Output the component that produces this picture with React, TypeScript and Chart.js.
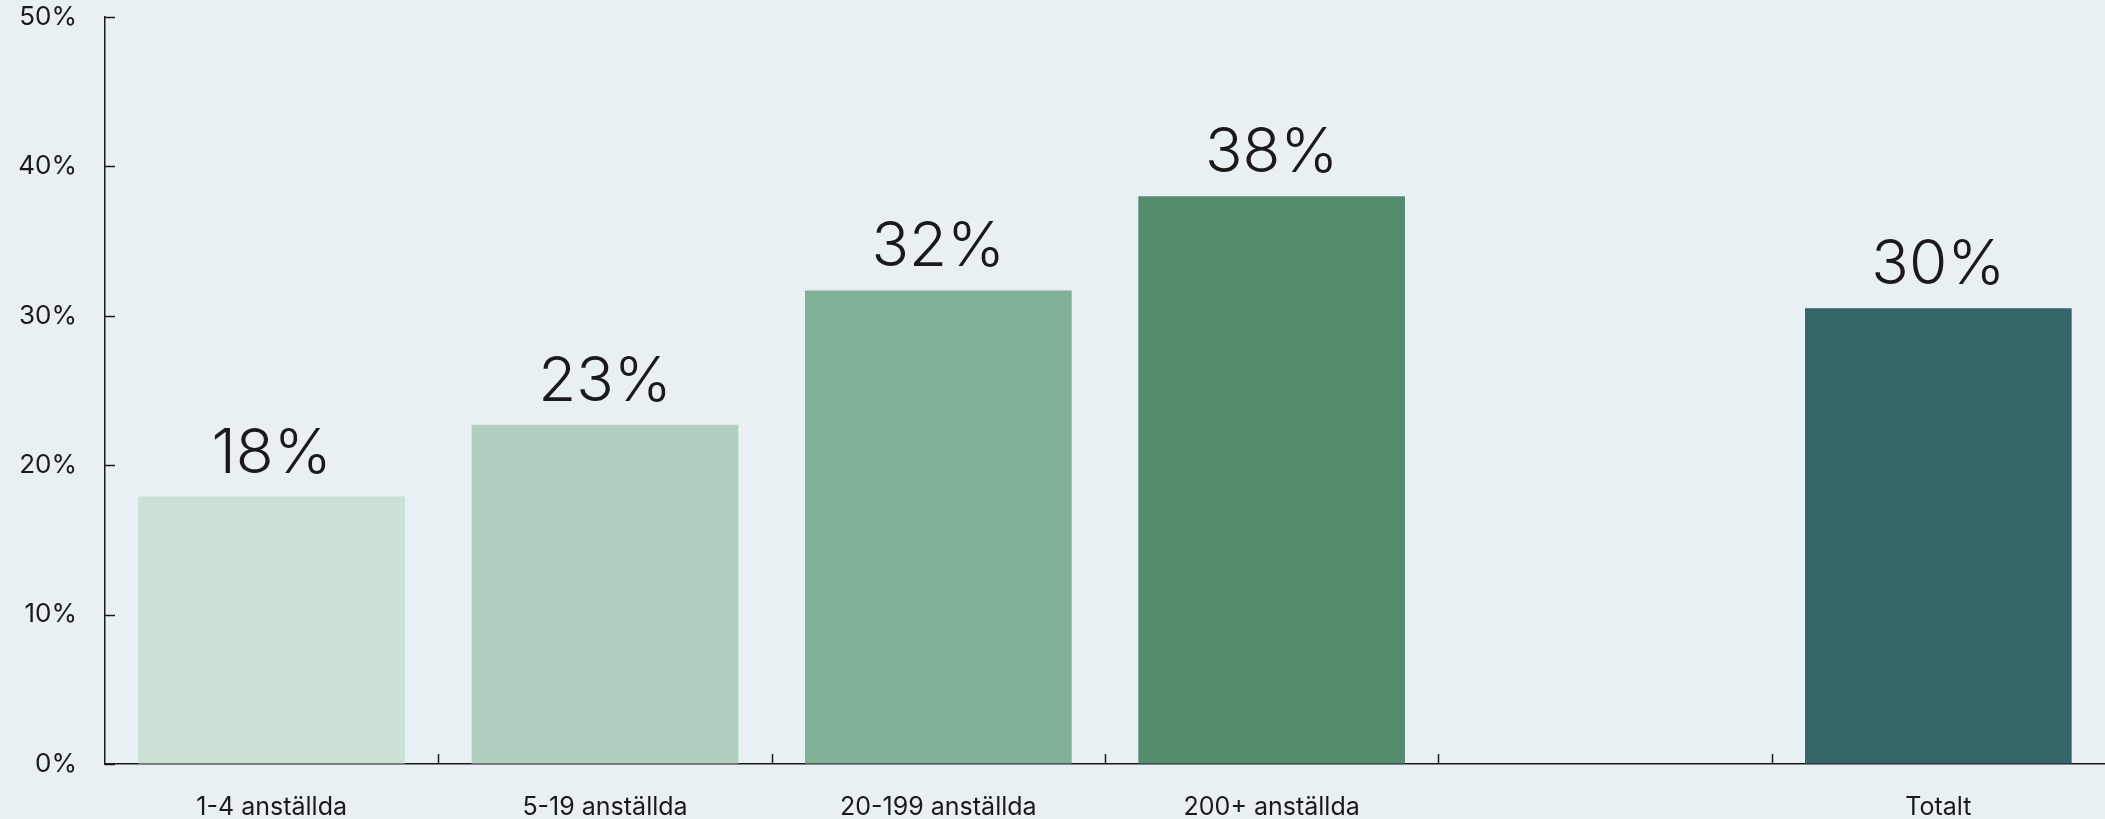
import React, { useEffect, useRef } from "react";
import { Chart, registerables } from "chart.js";

Chart.register(...registerables);

const categories = ["1-4 anställda", "5-19 anställda", "20-199 anställda", "200+ anställda", "", "Totalt"];
const values = [17.9, 22.7, 31.7, 38.0, null, 30.5];
const valueLabels = ["18%", "23%", "32%", "38%", "", "30%"];
const barColors = ["#CCE0D6", "#B2CFC0", "#80B096", "#568C6E", "#E8F0F3", "#356469"];
const yMin = 0;
const yMax = 50;
const yStep = 10;

const BG = "#E8F0F3";
const INK = "#1a1a1a";
const FONT = "Inter, 'Noto Sans', sans-serif";

const backgroundPlugin = {
  id: "bg",
  beforeDraw(chart: any) {
    const ctx = chart.ctx;
    ctx.save();
    ctx.fillStyle = BG;
    ctx.fillRect(0, 0, chart.width, chart.height);
    ctx.restore();
  },
};

const inwardTicks = {
  id: "inwardTicks",
  afterDraw(chart: any) {
    const ctx = chart.ctx;
    const xs = chart.scales.x;
    const ys = chart.scales.y;
    const { left, bottom } = chart.chartArea;
    ctx.save();
    ctx.strokeStyle = INK;
    ctx.lineWidth = 1.5;
    ys.ticks.forEach((t: any) => {
      const py = Math.round(ys.getPixelForValue(t.value)) + 0.5;
      ctx.beginPath();
      ctx.moveTo(left, py);
      ctx.lineTo(left + 10, py);
      ctx.stroke();
    });
    for (let i = 1; i < xs.ticks.length; i++) {
      const px = Math.round((xs.getPixelForTick(i - 1) + xs.getPixelForTick(i)) / 2) + 0.5;
      ctx.beginPath();
      ctx.moveTo(px, bottom);
      ctx.lineTo(px, bottom - 10);
      ctx.stroke();
    }
    ctx.restore();
  },
};

const valueLabelPlugin = {
  id: "valueLabels",
  afterDatasetsDraw(chart: any) {
    const ctx = chart.ctx;
    const meta = chart.getDatasetMeta(0);
    ctx.save();
    ctx.fillStyle = INK;
    ctx.font = `300 62px ${FONT}`;
    ctx.textAlign = "center";
    ctx.textBaseline = "alphabetic";
    meta.data.forEach((bar: any, i: number) => {
      if (values[i] == null) return;
      ctx.fillText(valueLabels[i], bar.x, bar.y - 24);
    });
    ctx.restore();
  },
};

export default function App() {
  const ref = useRef<HTMLCanvasElement | null>(null);

  useEffect(() => {
    document.body.style.margin = "0";
    document.body.style.background = BG;
    const canvas = ref.current!;
    const chart = new Chart(canvas, {
      type: "bar",
      data: {
        labels: categories,
        datasets: [
          {
            data: values as any,
            backgroundColor: barColors,
            borderWidth: 0,
            categoryPercentage: 0.8,
            barPercentage: 1.0,
          },
        ],
      },
      options: {
        responsive: false,
        animation: false,
        layout: { padding: { top: 17, right: 0, bottom: 0, left: 0 } },
        plugins: {
          legend: { display: false },
          tooltip: { enabled: false },
        },
        scales: {
          x: {
            grid: { display: true, drawOnChartArea: false, drawTicks: false },
            border: { display: true, color: INK, width: 1.5 },
            ticks: {
              color: INK,
              padding: 28,
              font: { family: FONT, size: 25, weight: 400 as any },
              maxRotation: 0,
              autoSkip: false,
            },
            afterFit(scale: any) {
              scale.height = 55;
              scale.paddingLeft = 0;
              scale.paddingRight = 0;
            },
          },
          y: {
            min: yMin,
            max: yMax,
            grid: { display: true, drawOnChartArea: false, drawTicks: false },
            border: { display: true, color: INK, width: 1.5 },
            ticks: {
              stepSize: yStep,
              color: INK,
              padding: 28,
              font: { family: FONT, size: 26, weight: 400 as any },
              callback: (v: any) => `${v}%`,
            },
            afterFit(scale: any) {
              scale.width = 105;
              scale.paddingTop = 0;
              scale.paddingBottom = 0;
            },
          },
        },
      },
      plugins: [backgroundPlugin, inwardTicks, valueLabelPlugin],
    });
    return () => chart.destroy();
  }, []);

  return (
    <div style={{ width: 2105, height: 819, background: BG }}>
      <canvas ref={ref} width={2105} height={819} style={{ display: "block" }} />
    </div>
  );
}
